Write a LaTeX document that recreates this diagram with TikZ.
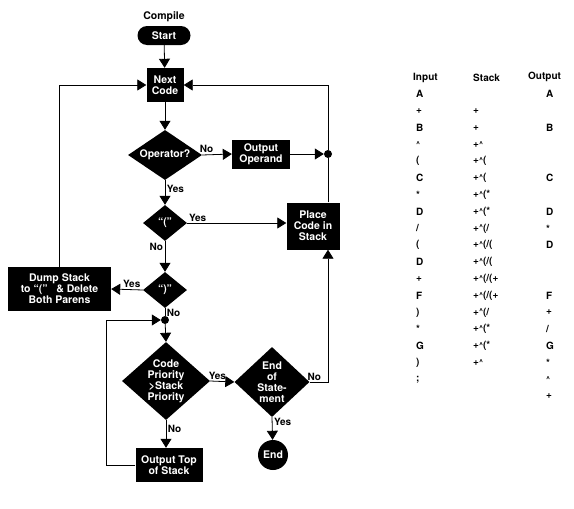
\documentclass[tikz,border=0pt]{standalone}
\usepackage{fontspec}
\setmainfont{TeX Gyre Heros}
\usetikzlibrary{shapes.geometric,arrows.meta}
\newcommand\pw{\raisebox{.2ex}{\scriptsize\textasciicircum}}

\tikzset{
 blk/.style={fill=black,text=white,inner sep=0pt,align=center,font=\bfseries\fontsize{10.5}{11}\selectfont},
 box/.style={blk,rectangle},
 dia/.style={blk,diamond},
 dtxt/.style={text=white,align=center,inner sep=0pt,font=\bfseries\fontsize{10.5}{11}\selectfont},
 lbl/.style={font=\bfseries\fontsize{10}{11}\selectfont,inner sep=1.5pt},
 tab/.style={font=\bfseries\fontsize{10}{11}\selectfont,anchor=west,inner sep=0pt},
 arr/.style={-{Triangle[length=9pt,width=11pt]},line width=.8pt},
 ln/.style={line width=.8pt},
 jdot/.style={circle,fill=black,inner sep=0pt,minimum size=8pt}
}

\begin{document}
\begin{tikzpicture}[x=1pt,y=-1pt]
 \useasboundingbox (0,0) rectangle (574,509);
 \node[font=\bfseries\fontsize{10.5}{11}\selectfont] (cmp) at (164,17) {Compile};
 \node[box,rounded corners=9.5pt,minimum width=53pt,minimum height=19pt] (st) at (164,35.5) {Start};
 \node[box,minimum width=37pt,minimum height=34pt] (nc) at (165,85) {Next\\Code};
 \node[dia,minimum width=74pt,minimum height=50pt,label={[dtxt]center:Operator?}] (op) at (165,155) {};
 \node[box,minimum width=58pt,minimum height=29pt] (oo) at (261,154) {Output\\Operand};
 \node[jdot] (j1) at (328,154) {};
 \node[dia,minimum width=44pt,minimum height=36pt,label={[dtxt]center:``(''}] (par) at (165,223) {};
 \node[box,minimum width=53pt,minimum height=47pt] (pl) at (313,226) {Place\\Code in\\Stack};
 \node[dia,minimum width=44pt,minimum height=36pt,label={[dtxt]center:``)''}] (cp) at (165,290) {};
 \node[box,minimum width=103pt,minimum height=44pt] (dump) at (59.5,289) {Dump Stack\\to ``('' \ \ \& Delete\\Both Parens};
 \node[jdot] (j2) at (165,320) {};
 \node[dia,minimum width=88pt,minimum height=78pt,label={[dtxt]center:{Code\\Priority\\>Stack\\Priority}}] (prio) at (166,381) {};
 \node[dia,minimum width=75pt,minimum height=70pt,label={[dtxt]center:{End\\of\\State-\\ment}}] (eos) at (272,382) {};
 \node[blk,circle,minimum size=30pt] (end) at (273,455) {End};
 \node[box,minimum width=67pt,minimum height=34pt] (ot) at (169,465) {Output Top\\of Stack};

 \draw[arr] (st) -- (nc);
 \draw[arr] (nc) -- (op);
 \draw[arr] (op.east) -- node[lbl,above,pos=.15] {No} (oo.west);
 \draw[arr] (oo.east) -- (j1);
 \draw[arr] (pl.north -| j1) -- (j1) |- (nc.east);
 \draw[arr] (op.south) -- node[lbl,right,pos=.36] {Yes} (par.north);
 \draw[arr] (par.east) -- node[lbl,above right,pos=0] {Yes} (par.east -| pl.west);
 \draw[arr] (par.south) -- node[lbl,left,pos=.2] {No} (cp.north);
 \draw[arr] (cp.west) -- node[lbl,above,pos=.35] {Yes} (dump.east);
 \draw[arr] (dump.north) |- (nc.west);
 \draw[ln] (cp.south) -- node[lbl,right,pos=.6] {No} (j2);
 \draw[arr] (j2) -- (prio.north);
 \draw[arr] (prio.east) -- node[lbl,above,pos=.3] {Yes} (eos.west);
 \draw[arr] (eos.east) -- node[lbl,above,pos=.25] {No} (eos.east -| j1) -- (pl.south -| j1);
 \draw[arr] (eos.south) -- node[lbl,right,pos=.2] {Yes} (end);
 \draw[arr] (prio.south) -- node[lbl,right,pos=.3] {No} (prio.south |- ot.north);
 \draw[arr] (ot.west) -- ++(-29,0) |- (j2);

 \node[tab] (hin) at (413,78) {Input};
 \node[tab] (hst) at (473,78) {Stack};
 \node[tab] (hout) at (528,77) {Output};
 \foreach \t [count=\r] in {A,+,B,\pw,{(},C,*,D,/,{(},D,+,F,{)},*,G,{)},;}
  \node[tab] (in\r) at (416,{94+16.8*(\r-1)}) {\t};
 \foreach \t [count=\r from 2] in {+,+,+\pw,+\pw(,+\pw(,+\pw(*,+\pw(*,+\pw(/,+\pw(/(,+\pw(/(,+\pw(/(+,+\pw(/(+,+\pw(/,+\pw(*,+\pw(*,+\pw}
  \node[tab] (sk\r) at (473,{94+16.8*(\r-1)}) {\t};
 \foreach \r/\t in {1/A,3/B,6/C,8/D,9/*,10/D,13/F,14/+,15/{/},16/G,17/*,18/\pw,19/+}
  \node[tab] (out\r) at (546,{94+16.8*(\r-1)}) {\t};
\end{tikzpicture}
\end{document}
